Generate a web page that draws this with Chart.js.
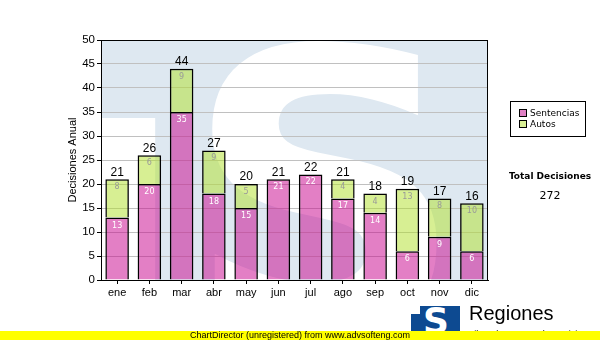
<!DOCTYPE html>
<html>
<head>
<meta charset="utf-8">
<script src="https://cdn.jsdelivr.net/npm/chart.js@4/dist/chart.umd.min.js"></script>
<style>
  body { margin: 0; background: #fff; }
  #wrap { position: relative; width: 600px; height: 340px; overflow: hidden; }
  #chart { position: absolute; left: 0; top: 0; }
  .legend { position: absolute; left: 510px; top: 101px; width: 74px; height: 34px; border: 1px solid #000; background: #fff;
            font: 9px "DejaVu Sans", Verdana, sans-serif; color: #000; }
  .legend div { position: absolute; left: 8px; white-space: nowrap; line-height: 11px; }
  .legend span { display: inline-block; width: 6px; height: 6px; border: 1px solid #000; margin-right: 3px; vertical-align: -1px; }
  .total { position: absolute; left: 500px; width: 100px; text-align: center; font-family: "DejaVu Sans", Verdana, sans-serif; color: #000; }
  .logo { position: absolute; left: 411px; top: 306px; width: 49px; height: 30px; background: #0d4a91; overflow: hidden; }
  .logo b { position: absolute; left: 12px; top: -6px; font: bold 36px "DejaVu Sans", sans-serif; color: #fff; }
  .logo i { position: absolute; left: 0; top: 0; width: 9px; height: 8px; background: #fff; }
  .brand { position: absolute; left: 469px; top: 302px; font: 20px "Liberation Sans", Arial, sans-serif; color: #000; }
  .sub { position: absolute; left: 466px; top: 329px; font: 9px "Liberation Sans", Arial, sans-serif; color: #000; white-space: nowrap; }
  .footer { position: absolute; left: 0; top: 331px; width: 600px; height: 9px; background: #ffff00; }
  .footer div { position: absolute; left: 190px; top: -1px; font: 9px "Liberation Sans", Arial, sans-serif; color: #000; white-space: nowrap; }
</style>
</head>
<body>
<div id="wrap">
  <canvas id="chart" width="600" height="340"></canvas>
  <div class="legend">
    <div style="top:6px"><span style="background:#e080c4"></span>Sentencias</div>
    <div style="top:17px"><span style="background:#d8ef94"></span>Autos</div>
  </div>
  <div class="total" style="top:171px; font-size:9px; font-weight:bold">Total Decisiones</div>
  <div class="total" id="total" style="top:189px; font-size:11px"></div>
  <div class="logo"><i></i><b>S</b></div>
  <div class="brand">Regiones</div>
  <div class="sub">Tribunal Supremo de Justicia</div>
  <div class="footer"><div>ChartDirector (unregistered) from www.advsofteng.com</div></div>
</div>
<script>
// meses y decisiones por tipo
const categories = ['ene', 'feb', 'mar', 'abr', 'may', 'jun', 'jul', 'ago', 'sep', 'oct', 'nov', 'dic'];
const sentencias = [13, 20, 35, 18, 15, 21, 22, 17, 14, 6, 9, 6];
const autos = [8, 6, 9, 9, 5, 0, 0, 4, 4, 13, 8, 10];
const yMax = 50;
const yStep = 5;

const totals = categories.map((c, i) => sentencias[i] + autos[i]);
document.getElementById('total').textContent = totals.reduce((a, b) => a + b, 0);

// fondo con la marca de agua del logo
const watermark = {
  id: 'watermark',
  beforeDraw(chart) {
    const { ctx, chartArea: a } = chart;
    const w = a.right - a.left, h = a.bottom - a.top;
    ctx.save();
    ctx.beginPath();
    ctx.rect(a.left, a.top, w, h);
    ctx.clip();
    ctx.fillStyle = '#dee8f1';
    ctx.fillRect(a.left, a.top, w, h);
    ctx.fillStyle = '#fff';
    ctx.fillRect(a.left, a.top + h * 0.325, w * 0.14, h);
    ctx.font = 'bold 390px "DejaVu Sans"';
    ctx.textAlign = 'center';
    ctx.textBaseline = 'alphabetic';
    ctx.fillText('S', a.left + w * 0.578, a.top + h * 1.21);
    ctx.restore();
  }
};

// valores dentro de cada tramo y total encima de la barra
const barLabels = {
  id: 'barLabels',
  afterDatasetsDraw(chart) {
    const ctx = chart.ctx;
    ctx.save();
    ctx.textAlign = 'center';
    chart.data.datasets.forEach((ds, i) => {
      chart.getDatasetMeta(i).data.forEach((bar, j) => {
        const v = ds.data[j];
        if (!v) return;
        ctx.font = '8px "DejaVu Sans"';
        ctx.textBaseline = 'top';
        ctx.fillStyle = i === 0 ? '#ffffff' : '#999999';
        ctx.fillText(v, bar.x, bar.y + 4);
      });
    });
    const y = chart.scales.y;
    ctx.font = '12px "Liberation Sans"';
    ctx.textBaseline = 'bottom';
    ctx.fillStyle = '#000';
    chart.getDatasetMeta(0).data.forEach((bar, j) => {
      ctx.fillText(totals[j], bar.x, y.getPixelForValue(totals[j]) - 1);
    });
    ctx.restore();
  },
  afterDraw(chart) {
    const { ctx, chartArea: a } = chart;
    ctx.save();
    ctx.strokeStyle = '#000';
    ctx.lineWidth = 1;
    ctx.strokeRect(a.left + 0.5, a.top + 0.5, a.right - a.left - 1, a.bottom - a.top);
    ctx.restore();
  }
};

new Chart(document.getElementById('chart'), {
  type: 'bar',
  data: {
    labels: categories,
    datasets: [{
      label: 'Sentencias',
      data: sentencias,
      backgroundColor: 'rgba(200, 0, 140, 0.5)',
      borderColor: '#000',
      borderWidth: 1.5,
      barPercentage: 0.73,
      categoryPercentage: 1
    }, {
      label: 'Autos',
      data: autos,
      backgroundColor: 'rgba(176, 224, 40, 0.5)',
      borderColor: '#000',
      borderWidth: 1.5,
      barPercentage: 0.73,
      categoryPercentage: 1
    }]
  },
  options: {
    responsive: false,
    animation: false,
    layout: { padding: { left: 66, top: 40, right: 112, bottom: 40 } },
    plugins: { legend: { display: false }, tooltip: { enabled: false } },
    scales: {
      x: {
        stacked: true,
        afterFit: s => { s.height = 20; },
        grid: { drawOnChartArea: false, offset: false, tickLength: 4, tickColor: '#000' },
        border: { color: '#000' },
        ticks: { color: '#000', font: { family: 'Liberation Sans', size: 11 }, padding: 2 }
      },
      y: {
        stacked: true,
        min: 0,
        max: yMax,
        afterFit: s => { s.width = 35; },
        grid: { color: '#c0c0c0', tickLength: 4, tickColor: '#000' },
        border: { color: '#000' },
        ticks: { stepSize: yStep, color: '#000', font: { family: 'Liberation Sans', size: 11.5 }, padding: 2 },
        title: { display: true, text: 'Decisiones Anual', color: '#000', font: { family: 'Liberation Sans', size: 11 }, padding: { top: 0, bottom: 0 } }
      }
    }
  },
  plugins: [watermark, barLabels]
});
</script>
</body>
</html>
